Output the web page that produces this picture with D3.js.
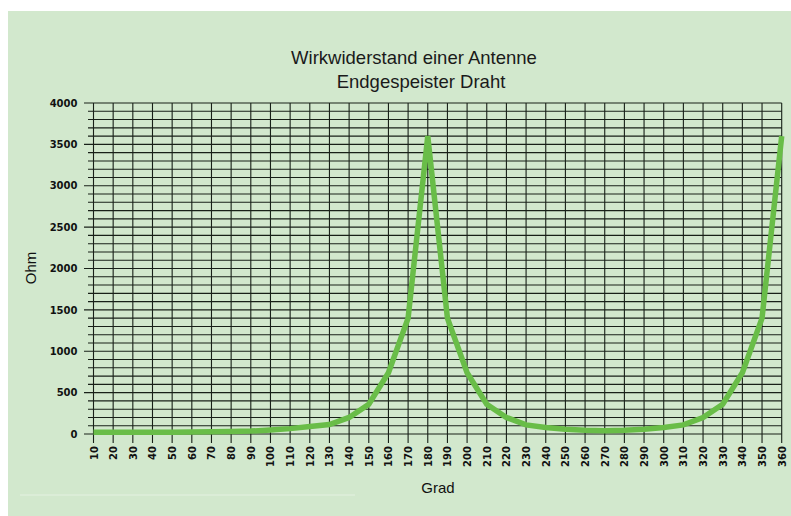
<!DOCTYPE html>
<html>
<head>
<meta charset="utf-8">
<script src="https://cdn.jsdelivr.net/npm/d3@7"></script>
<style>
  body { margin: 0; background: #ffffff; }
  svg { display: block; }
</style>
</head>
<body>
<script>
// Data: Wirkwiderstand (Ohm) over Grad
var degrees = [10, 20, 30, 40, 50, 60, 70, 80, 90, 100, 110, 120, 130, 140, 150, 160, 170, 180,
               190, 200, 210, 220, 230, 240, 250, 260, 270, 280, 290, 300, 310, 320, 330, 340, 350, 360];
var ohms = [20, 20, 20, 21, 22, 24, 27, 30, 35, 48, 65, 90, 115, 200, 360, 740, 1400, 3600,
            1400, 740, 360, 200, 110, 78, 58, 46, 40, 46, 58, 78, 110, 200, 360, 740, 1400, 3600];
var yMajor = [0, 500, 1000, 1500, 2000, 2500, 3000, 3500, 4000];
var yMinor = d3.range(0, 4001, 100);
var titleLines = ["Wirkwiderstand einer Antenne", "Endgespeister Draht"];

var width = 791, height = 516;

var svg = d3.select("body")
    .append("svg")
    .attr("width", width)
    .attr("height", height);

// green panel
svg.append("rect")
    .attr("x", 8).attr("y", 11)
    .attr("width", width - 8).attr("height", height - 11)
    .style("fill", "#d2e8cd");

// faint light streak near the bottom
svg.append("line")
    .attr("x1", 20).attr("x2", 355)
    .attr("y1", 495).attr("y2", 495)
    .style("stroke", "#e4f1e1")
    .style("stroke-width", 1);

var x = d3.scaleLinear().domain([10, 360]).range([93.5, 781.7]);
var y = d3.scaleLinear().domain([0, 4000]).range([434, 103]);

// horizontal grid lines (every 100, major ones stick out further)
svg.append("g").selectAll("line")
    .data(yMinor)
    .enter().append("line")
    .attr("x1", function (d) { return d % 500 === 0 ? 84 : 88; })
    .attr("x2", x(360))
    .attr("y1", function (d) { return y(d); })
    .attr("y2", function (d) { return y(d); })
    .style("stroke", "#182018")
    .style("stroke-width", 1.1);

// vertical grid lines, running down past the axis as ticks
svg.append("g").selectAll("line")
    .data(degrees)
    .enter().append("line")
    .attr("x1", function (d) { return x(d); })
    .attr("x2", function (d) { return x(d); })
    .attr("y1", y(4000))
    .attr("y2", y(0) + 9)
    .style("stroke", "#182018")
    .style("stroke-width", 1.1);

// y axis labels
var yAxis = svg.append("g")
    .attr("transform", "translate(" + x(10) + ",0)")
    .call(d3.axisLeft(y).tickValues(yMajor).tickFormat(d3.format("d")).tickSize(0).tickPadding(16));
yAxis.select(".domain").remove();
yAxis.selectAll("text")
    .style("font-family", "'DejaVu Sans', sans-serif")
    .style("font-weight", "bold")
    .style("font-size", "10px")
    .style("fill", "#111");

// x axis labels, rotated
var xAxis = svg.append("g")
    .attr("transform", "translate(0," + y(0) + ")")
    .call(d3.axisBottom(x).tickValues(degrees).tickFormat(d3.format("d")).tickSize(0));
xAxis.select(".domain").remove();
xAxis.selectAll("text")
    .attr("transform", "rotate(-90)")
    .attr("x", -12)
    .attr("y", 0)
    .attr("dy", "0.35em")
    .style("text-anchor", "end")
    .style("font-family", "'DejaVu Sans', sans-serif")
    .style("font-weight", "bold")
    .style("font-size", "10px")
    .style("fill", "#111");

// the curve
var line = d3.line()
    .x(function (d, i) { return x(degrees[i]); })
    .y(function (d) { return y(d); });

svg.append("path")
    .datum(ohms)
    .attr("d", line)
    .style("fill", "none")
    .style("stroke", "#69bd48")
    .style("stroke-width", 5.5)
    .style("stroke-linejoin", "miter");

// title
svg.append("text")
    .attr("x", 414).attr("y", 64)
    .attr("text-anchor", "middle")
    .style("font-family", "'Liberation Sans', Arial, sans-serif")
    .style("font-size", "18.5px")
    .style("fill", "#1a1a1a")
    .text(titleLines[0]);
svg.append("text")
    .attr("x", 421).attr("y", 88)
    .attr("text-anchor", "middle")
    .style("font-family", "'Liberation Sans', Arial, sans-serif")
    .style("font-size", "18.5px")
    .style("fill", "#1a1a1a")
    .text(titleLines[1]);

// axis titles
svg.append("text")
    .attr("transform", "translate(36,268) rotate(-90)")
    .attr("text-anchor", "middle")
    .style("font-family", "'Liberation Sans', Arial, sans-serif")
    .style("font-size", "15px")
    .style("fill", "#111")
    .text("Ohm");
svg.append("text")
    .attr("x", 438).attr("y", 493)
    .attr("text-anchor", "middle")
    .style("font-family", "'Liberation Sans', Arial, sans-serif")
    .style("font-size", "15px")
    .style("fill", "#111")
    .text("Grad");
</script>
</body>
</html>
